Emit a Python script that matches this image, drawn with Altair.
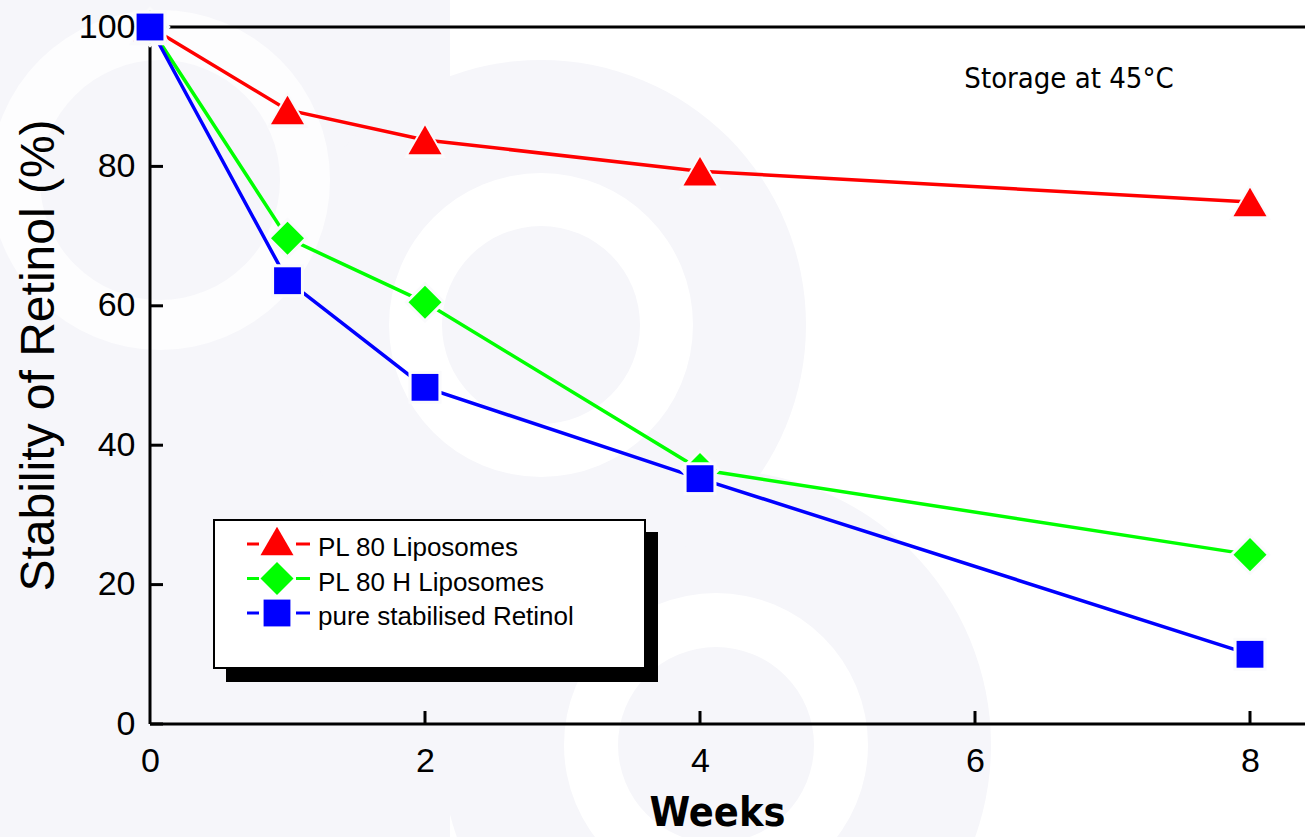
import altair as alt
import pandas as pd

# ---------------- data ----------------
weeks = [0, 1, 2, 4, 8]
pl80 = [100, 88.1, 83.8, 79.3, 74.9]
pl80h = [100, 69.7, 60.5, 36.5, 24.3]
pure = [100, 63.6, 48.3, 35.2, 10.0]
series_names = ["PL 80 Liposomes", "PL 80 H Liposomes", "pure stabilised Retinol"]
series_values = [pl80, pl80h, pure]
series_colors = ["#ff0000", "#00ff00", "#0000ff"]
series_shapes = ["triangle-up", "diamond", "square"]
x_ticks = [0, 2, 4, 6, 8]
y_ticks = [0, 20, 40, 60, 80, 100]
x_title = "Weeks"
y_title = "Stability of Retinol (%)"
note = "Storage at 45°C"

# ---------------- layout ----------------
W, H = 1155, 697
LEFT, TOP = 150, 27
LAV = "#f6f6fa"
SANS = "Liberation Sans, Arial, sans-serif"
NARROW = "DejaVu Sans Condensed, Liberation Sans Narrow, Arial Narrow, Liberation Sans, sans-serif"
marker_size = {"triangle-up": 1090, "diamond": 1090, "square": 720}
halo_size = {"triangle-up": 1760, "diamond": 1720, "square": 1090}

rows = []
for name, vals in zip(series_names, series_values):
    for w, v in zip(weeks, vals):
        rows.append({"week": w, "value": v, "series": name})
df = pd.DataFrame(rows)
one = pd.DataFrame({"d": [0]})

xs = alt.Scale(domain=[0, 8.4], nice=False, zero=False)
ys = alt.Scale(domain=[0, 100], nice=False, zero=False)

xaxis = alt.Axis(values=x_ticks, tickSize=0, domain=False, grid=False,
                 labelFont=SANS, labelFontSize=34, labelColor="black",
                 labelPadding=20, labelFlush=False, labelOverlap=False,
                 title=x_title, titleFont=NARROW, titleFontSize=41,
                 titleFontWeight="bold", titleColor="black",
                 titleX=567, titleY=101, titleAlign="center",
                 titleBaseline="alphabetic", zindex=1)
yaxis = alt.Axis(values=y_ticks, tickSize=0, domain=False, grid=False,
                 labelFont=SANS, labelFontSize=34, labelColor="black",
                 labelPadding=15, labelFlush=False, labelOverlap=False,
                 title=y_title, titleFont=SANS, titleFontSize=48,
                 titleFontWeight="normal", titleColor="black",
                 titleAngle=270, titleX=-97, titleY=328,
                 titleAlign="center", titleBaseline="alphabetic", zindex=1)

X = alt.X("week:Q", scale=xs, axis=xaxis)
Y = alt.Y("value:Q", scale=ys, axis=yaxis)

layers = []

# ---------------- decorative watermark ----------------
layers.append(alt.Chart(one).mark_rect(color=LAV).encode(
    x=alt.value(-LEFT), x2=alt.value(450 - LEFT), y=alt.value(-TOP), y2=alt.value(837 - TOP)))


def disc(cx, cy, r, color, r2=0):
    return alt.Chart(one).mark_arc(radius=r, radius2=r2, theta=0, theta2=6.2832,
                                   color=color).encode(
        x=alt.value(cx - LEFT), y=alt.value(cy - TOP))


layers += [
    disc(716, 745, 275, LAV),
    disc(541, 325, 265, LAV),
    disc(160, 180, 170, "#fdfdfe", 120),
    disc(541, 325, 152, "#ffffff", 99),
    disc(716, 745, 152, "#ffffff", 98),
]

# ---------------- axis lines and inward ticks ----------------
layers.append(alt.Chart(one).mark_rule(color="black", strokeWidth=3).encode(
    x=alt.value(0), x2=alt.value(W), y=alt.value(H)))
layers.append(alt.Chart(one).mark_rule(color="black", strokeWidth=3).encode(
    x=alt.value(0), x2=alt.value(W), y=alt.value(0)))
layers.append(alt.Chart(one).mark_rule(color="black", strokeWidth=3).encode(
    x=alt.value(0), y=alt.value(0), y2=alt.value(H)))

xt = pd.DataFrame({"week": x_ticks[1:]})
layers.append(alt.Chart(xt).mark_rule(color="black", strokeWidth=3).encode(
    x=X, y=alt.value(H - 13), y2=alt.value(H)))
yt = pd.DataFrame({"value": y_ticks[:-1]})
layers.append(alt.Chart(yt).mark_rule(color="black", strokeWidth=3).encode(
    y=Y, x=alt.value(0), x2=alt.value(13)))

# ---------------- series lines ----------------
color_scale = alt.Scale(domain=series_names, range=series_colors)
layers.append(alt.Chart(df).mark_line(strokeWidth=3.5).encode(
    x=X, y=Y, color=alt.Color("series:N", scale=color_scale, legend=None)))

# ---------------- markers with halos ----------------
for name, col, shp in zip(series_names, series_colors, series_shapes):
    sub = df[df["series"] == name]
    layers.append(alt.Chart(sub).mark_point(filled=True, shape=shp, size=halo_size[shp],
                                            color="#fafafc", opacity=1).encode(x=X, y=Y))
    layers.append(alt.Chart(sub).mark_point(filled=True, shape=shp, size=marker_size[shp],
                                            color=col, opacity=1).encode(x=X, y=Y))

# ---------------- legend box ----------------
layers.append(alt.Chart(one).mark_rect(color="black").encode(
    x=alt.value(226 - LEFT), x2=alt.value(658 - LEFT),
    y=alt.value(532 - TOP), y2=alt.value(682 - TOP)))
layers.append(alt.Chart(one).mark_rect(fill="white", stroke="black", strokeWidth=2).encode(
    x=alt.value(214 - LEFT), x2=alt.value(645 - LEFT),
    y=alt.value(520 - TOP), y2=alt.value(668 - TOP)))

for i, (name, col, shp) in enumerate(zip(series_names, series_colors, series_shapes)):
    ly = 544 + 34.5 * i - TOP
    lab = pd.DataFrame({"label": [name]})
    for a, b in [(247, 259), (296, 310)]:
        layers.append(alt.Chart(one).mark_rule(color=col, strokeWidth=3).encode(
            x=alt.value(a - LEFT), x2=alt.value(b - LEFT), y=alt.value(ly)))
    layers.append(alt.Chart(one).mark_point(filled=True, shape=shp, size=marker_size[shp],
                                            color=col, opacity=1).encode(
        x=alt.value(277 - LEFT), y=alt.value(ly - (3 if shp == "triangle-up" else 0))))
    layers.append(alt.Chart(lab).mark_text(align="left", baseline="alphabetic", font=SANS,
                                           fontSize=26, color="black").encode(
        x=alt.value(318 - LEFT), y=alt.value(ly + 12), text="label:N"))

# ---------------- annotation ----------------
layers.append(alt.Chart(pd.DataFrame({"t": [note]})).mark_text(
    align="center", baseline="alphabetic", font=NARROW, fontSize=29, color="black").encode(
    x=alt.value(1069 - LEFT), y=alt.value(88 - TOP), text="t:N"))

chart = alt.layer(*layers).properties(
    width=W, height=H,
    padding={"left": LEFT, "top": TOP, "right": 0, "bottom": 837 - TOP - H},
    autosize=alt.AutoSizeParams(type="none"),
    background="white",
).configure_view(stroke=None)

chart.save("out.html", embed_options={"renderer": "svg", "actions": False})
